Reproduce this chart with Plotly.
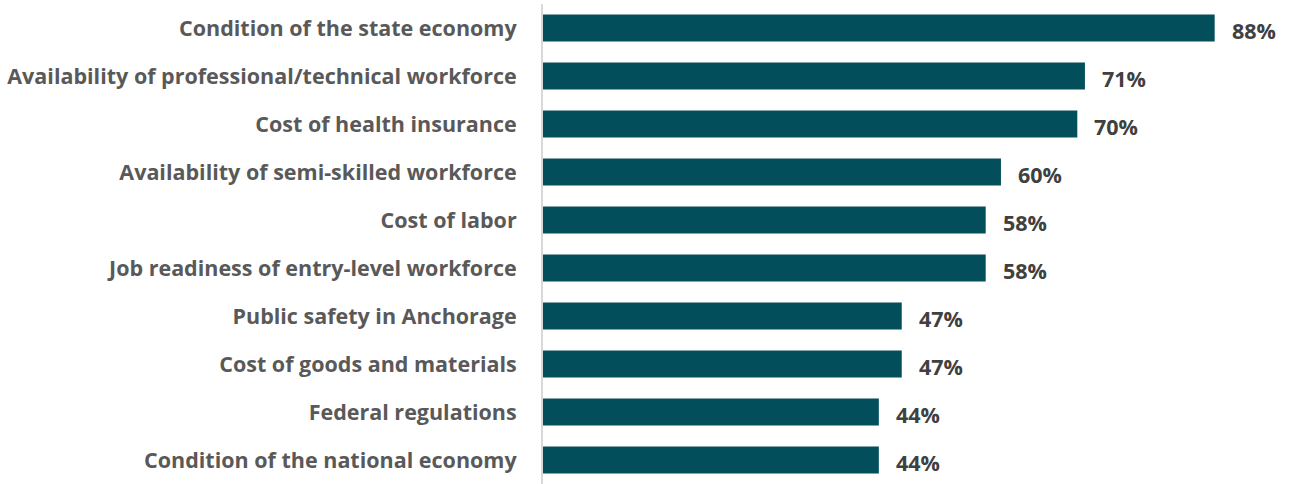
import plotly.graph_objects as go

# Share of respondents rating each factor as a concern
factors = [
    "Condition of the state economy",
    "Availability of professional/technical workforce",
    "Cost of health insurance",
    "Availability of semi-skilled workforce",
    "Cost of labor",
    "Job readiness of entry-level workforce",
    "Public safety in Anchorage",
    "Cost of goods and materials",
    "Federal regulations",
    "Condition of the national economy",
]
shares = [88, 71, 70, 60, 58, 58, 47, 47, 44, 44]
share_labels = [f"{v}%" for v in shares]

BAR_COLOR = "#024e5a"
LABEL_GREY = "#595959"
VALUE_GREY = "#404040"
FONT = "Open Sans"

fig = go.Figure(
    go.Bar(
        x=shares,
        y=factors,
        orientation="h",
        marker=dict(color=BAR_COLOR, line=dict(width=0)),
        width=0.56,
        hoverinfo="skip",
    )
)

# Value labels just past the end of each bar
for f, v, t in zip(factors, shares, share_labels):
    fig.add_annotation(
        x=v, y=f, text=f"<b>{t}</b>", showarrow=False,
        xanchor="left", yanchor="middle", xshift=15, yshift=-2,
        font=dict(family=FONT, size=21.5, color=VALUE_GREY),
    )

fig.update_layout(
    width=1295,
    height=484,
    margin=dict(l=543, r=4, t=4, b=0),
    paper_bgcolor="white",
    plot_bgcolor="white",
    showlegend=False,
    font=dict(family=FONT),
)
fig.update_xaxes(range=[0, 98], visible=False, fixedrange=True)
fig.update_yaxes(
    autorange="reversed",
    showline=True,
    linecolor="#d9d9d9",
    linewidth=2,
    showgrid=False,
    zeroline=False,
    ticks="",
    ticklabelstandoff=20,
    tickfont=dict(family=FONT, size=21.5, color=LABEL_GREY, weight="bold"),
    fixedrange=True,
)

fig.write_html("out.html")
